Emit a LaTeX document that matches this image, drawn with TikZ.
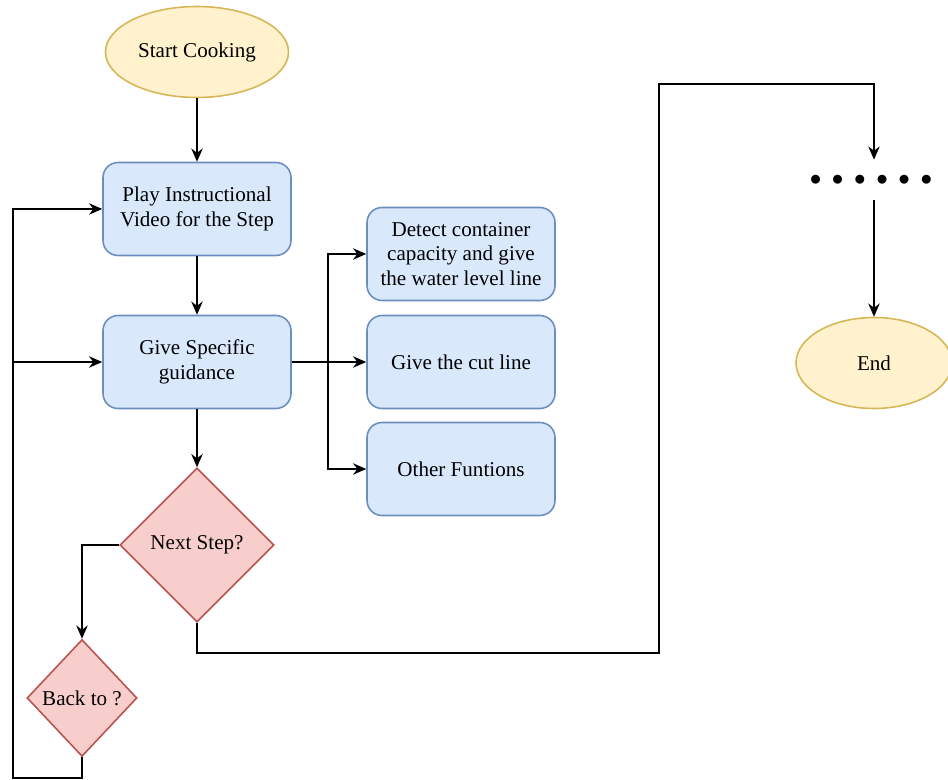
\documentclass[tikz,border=0pt]{standalone}
\usepackage{fontspec}
\setmainfont{Liberation Serif}
\usetikzlibrary{positioning,shapes.geometric,arrows.meta}
\definecolor{boxfill}{HTML}{DAE8FC}
\definecolor{boxline}{HTML}{6C8EBF}
\definecolor{termfill}{HTML}{FFF2CC}
\definecolor{termline}{HTML}{D6B656}
\definecolor{choicefill}{HTML}{F8CECC}
\definecolor{choiceline}{HTML}{B85450}
\newcommand{\bigdot}{\scalebox{1.1}{$\bullet$}}

\begin{document}
\begin{tikzpicture}[x=0.02cm, y=-0.02cm, font=\fontsize{12}{14}\selectfont,
    box/.style={draw=boxline, fill=boxfill, rounded corners=0.3cm, line width=0.9pt,
                minimum width=3.76cm, minimum height=1.86cm, align=center},
    term/.style={ellipse, draw=termline, fill=termfill, line width=0.9pt,
                 minimum width=3.12cm, minimum height=1.82cm},
    choice/.style={diamond, draw=choiceline, fill=choicefill, line width=0.9pt,
                   inner sep=0pt, aspect=1},
    arr/.style={-{Stealth[length=7.5pt,width=6.5pt]}, line width=0.75pt}]
    \useasboundingbox (0,0) rectangle (948,780);

    % main column
    \node[term] (S) at (197,52) {Start Cooking};
    \node[box] (P) at (197,209) {Play Instructional\\Video for the Step};
    \node[box] (G) at (197,362) {Give Specific\\guidance};
    \node[choice, minimum size=3.08cm] (N) at (197,545) {Next Step?};
    \node[choice, minimum width=2.2cm, minimum height=2.34cm] (K) at (82,698) {Back to ?};

    % functions
    \node[box] (D) at (461,254) {Detect container\\capacity and give\\the water level line};
    \node[box] (C) at (461,362) {Give the cut line};
    \node[box] (O) at (461,469) {Other Funtions};

    % right column
    \node[minimum height=0.8cm, inner sep=0pt] (dots) at (871,180)
        {\raisebox{-0.16cm}{\bigdot\hspace{6pt}\bigdot\hspace{6pt}\bigdot\hspace{6pt}\bigdot\hspace{6pt}\bigdot\hspace{6pt}\bigdot}};
    \node[term] (E) at (874,363) {End};

    \coordinate (X) at (328,362);
    \coordinate (L) at (13,778);
    \coordinate (R1) at (659,653);
    \coordinate (R2) at (659,84);

    \draw[arr] (S) -- (P);
    \draw[arr] (P) -- (G);
    \draw[arr] (G) -- (N);
    \draw[line width=0.75pt] (G) -- (X);
    \draw[arr] (X) |- (D);
    \draw[arr] (X) -- (C);
    \draw[arr] (X) |- (O);
    \draw[arr] (N) -| (K);
    \draw[arr] (K) |- (L) |- (P);
    \draw[arr] (L |- G) -- (G);
    \draw[arr] (N) |- (R1) -- (R2) -| (dots.north -| E);
    \draw[arr] (dots.south -| E) -- (E);
\end{tikzpicture}
\end{document}
